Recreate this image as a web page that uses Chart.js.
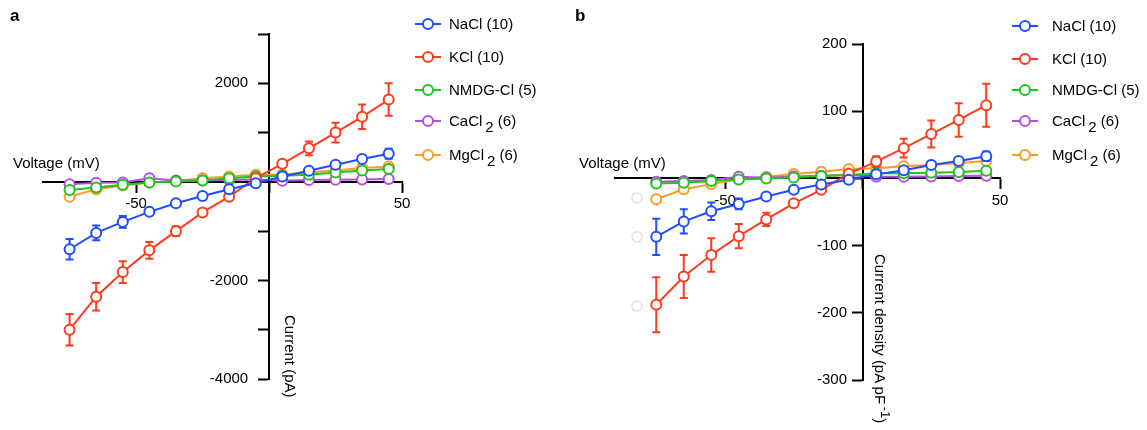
<!DOCTYPE html>
<html>
<head>
<meta charset="utf-8">
<script src="https://cdn.jsdelivr.net/npm/chart.js@4/dist/chart.umd.min.js"></script>
<style>
  body { margin: 0; background: #fff; font-family: 'Liberation Sans', Arial, sans-serif; }
  #wrap { position: relative; width: 1147px; height: 430px; overflow: hidden; }
  canvas { position: absolute; top: 0; }
  .txt { position: absolute; font-size: 15px; line-height: 18px; color: #000; white-space: nowrap; }
  .panel { position: absolute; font-size: 17px; font-weight: bold; }
  .rot { transform: rotate(90deg); transform-origin: left top; }
  .leg { position: absolute; font-size: 15px; line-height: 18px; white-space: nowrap; }
  .leg .ln { position: absolute; top: 8px; width: 26px; height: 0; border-top: 2px solid; }
  .leg .dot { position: absolute; top: 3px; left: 7px; width: 8px; height: 8px; border: 2px solid; border-radius: 50%; background: #fff; }
  .sub2 { position: relative; top: 6px; margin-left: 3px; }
</style>
</head>
<body>
<div id="wrap">
  <canvas id="chartA" width="570" height="430" style="left:0"></canvas>
  <canvas id="chartB" width="577" height="430" style="left:570px"></canvas>

  <div class="panel" style="left:10px; top:6px">a</div>
  <div class="panel" style="left:575px; top:6px">b</div>

  <div class="txt" style="left:13px; top:154px">Voltage (mV)</div>
  <div class="txt" style="left:579px; top:154px">Voltage (mV)</div>

  <div class="txt rot" style="left:299px; top:315px">Current (pA)</div>
  <div class="txt rot" style="left:894px; top:254px">Current density (pA pF<sup style="font-size:13px">&thinsp;-1</sup>)</div>

  <div id="legendA"></div>
  <div id="legendB"></div>
</div>

<script>
// tensioni di comando (mV), uguali per tutte le serie
const voltages = [-75, -65, -55, -45, -35, -25, -15, -5, 5, 15, 25, 35, 45];

// pannello a: corrente (pA)
const naclA = [-1367, -1036, -812, -608, -435, -286, -149, -27, 108, 224, 347, 463, 571];
const naclAErr = [210, 150, 120, 60, 40, 30, 20, 20, 20, 30, 40, 50, 100];
const kclA = [-3000, -2330, -1830, -1390, -1000, -620, -300, 75, 367, 680, 1000, 1320, 1670];
const kclAErr = [320, 280, 220, 170, 100, 60, 40, 40, 50, 140, 200, 250, 330];
const nmdgA = [-163, -116, -61, -14, 6, 27, 75, 108, 122, 143, 190, 231, 259];
const nmdgAErr = [40, 30, 20, 20, 20, 20, 20, 20, 20, 20, 30, 30, 40];
const cacl2A = [-47, -20, -14, 75, 27, 27, 40, 50, 20, 40, 45, 50, 60];
const cacl2AErr = [20, 20, 20, 20, 20, 20, 20, 20, 20, 20, 20, 20, 20];
const mgcl2A = [-300, -150, -75, -14, 20, 75, 108, 143, 150, 190, 231, 279, 313];
const mgcl2AErr = [40, 30, 20, 20, 20, 20, 20, 20, 20, 20, 30, 30, 40];

// pannello b: densita' di corrente (pA/pF)
const naclB = [-87, -64, -49, -38, -27, -17, -9, -2, 6, 12, 20, 26, 33];
const naclBErr = [27, 18, 13, 8, 4, 3, 2, 2, 2, 2, 3, 4, 7];
const kclB = [-188, -146, -114, -86, -61, -37, -17, 7, 25, 45, 66, 87, 109];
const kclBErr = [41, 32, 25, 18, 10, 5, 3, 3, 8, 14, 20, 25, 32];
const nmdgB = [-7.5, -6.5, -4, -1.5, 0, 1.5, 3.5, 5, 7.5, 7.5, 8.5, 9.5, 11.5];
const nmdgBErr = [2, 2, 2, 2, 2, 2, 2, 2, 2, 2, 2, 2, 2];
const cacl2B = [-5, -4, -2.5, 2.5, 1, 3, 4, 5, 2.5, 2.5, 3, 3.5, 4];
const cacl2BErr = [2, 2, 2, 2, 2, 2, 2, 2, 2, 2, 2, 2, 2];
const mgcl2B = [-31, -16, -8.5, -1.5, 2.5, 6.5, 10, 14, 15, 18, 20, 23, 26];
const mgcl2BErr = [3, 2, 2, 2, 2, 2, 2, 2, 2, 2, 2, 2, 3];

// cerchi grigi sbiaditi a sinistra nel pannello b
const ghostX = [-82, -82, -82];
const ghostY = [-29, -87, -190];

// etichette delle serie e numerosita'
const seriesNames = ['NaCl', 'KCl', 'NMDG-Cl', 'CaCl2', 'MgCl2'];
const seriesN = [10, 10, 5, 6, 6];

const colors = ['#1f4dff', '#ff3b1c', '#1ec51e', '#b44ee6', '#ff9a22'];

// disegna le barre d'errore prima di ogni dataset (cosi' i cerchi le coprono)
const errorBarPlugin = {
  id: 'errorBars',
  beforeDatasetDraw(chart, args) {
    const ds = chart.data.datasets[args.index];
    if (!ds.errors) return;
    const ctx = chart.ctx;
    const yScale = chart.scales.y;
    ctx.save();
    ctx.strokeStyle = ds.borderColor;
    ctx.lineWidth = 2;
    args.meta.data.forEach((pt, i) => {
      const v = ds.data[i].y;
      const e = ds.errors[i];
      const yTop = yScale.getPixelForValue(v + e);
      const yBot = yScale.getPixelForValue(v - e);
      ctx.beginPath();
      ctx.moveTo(pt.x, yTop); ctx.lineTo(pt.x, yBot);
      ctx.moveTo(pt.x - 4, yTop); ctx.lineTo(pt.x + 4, yTop);
      ctx.moveTo(pt.x - 4, yBot); ctx.lineTo(pt.x + 4, yBot);
      ctx.stroke();
    });
    ctx.restore();
  }
};

function makeDataset(label, values, errors, color) {
  return {
    label: label,
    data: voltages.map((v, i) => ({ x: v, y: values[i] })),
    errors: errors,
    borderColor: color,
    backgroundColor: '#fff',
    borderWidth: 2,
    pointRadius: 5,
    pointBorderWidth: 2,
    pointBackgroundColor: '#fff',
    tension: 0
  };
}

// con l'asse y posizionato su x=0 Chart.js ignora il padding delle etichette:
// le spingo a sinistra con degli spazi in coda
function axisOptions(xMin, xMax, yMin, yMax, yStep, yLabels, yGap) {
  const common = {
    type: 'linear',
    border: { display: true, color: '#000', width: 2 },
    grid: { drawOnChartArea: false, drawTicks: true, tickLength: 10, tickWidth: 2, tickColor: '#000' },
  };
  return {
    x: Object.assign({}, common, {
      position: { y: 0 },
      min: xMin, max: xMax,
      afterFit: s => { s.height = 0; },
      ticks: {
        stepSize: 50, includeBounds: false, autoSkip: false, maxRotation: 0,
        color: '#000', padding: 3,
        callback: v => (v === 0 ? '' : String(v))
      }
    }),
    y: Object.assign({}, common, {
      position: { x: 0 },
      min: yMin, max: yMax,
      afterFit: s => { s.width = 0; },
      ticks: {
        stepSize: yStep, autoSkip: false, color: '#000',
        callback: v => (yLabels.includes(v) ? String(v) + yGap : '')
      }
    })
  };
}

function drawChart(canvas, datasets, scales, padding) {
  return new Chart(canvas.getContext('2d'), {
    type: 'line',
    data: { datasets: datasets },
    options: {
      responsive: false,
      animation: false,
      events: [],
      layout: { padding: padding, autoPadding: false },
      plugins: { legend: { display: false }, tooltip: { enabled: false } },
      scales: scales
    },
    plugins: [errorBarPlugin]
  });
}

Chart.defaults.font.family = "'Liberation Sans', Arial, sans-serif";
Chart.defaults.font.size = 15;
Chart.defaults.color = '#000';

const valuesA = [naclA, kclA, nmdgA, cacl2A, mgcl2A];
const errorsA = [naclAErr, kclAErr, nmdgAErr, cacl2AErr, mgcl2AErr];
const valuesB = [naclB, kclB, nmdgB, cacl2B, mgcl2B];
const errorsB = [naclBErr, kclBErr, nmdgBErr, cacl2BErr, mgcl2BErr];

const datasetsA = seriesNames.map((n, i) => makeDataset(n, valuesA[i], errorsA[i], colors[i]));
const datasetsB = seriesNames.map((n, i) => makeDataset(n, valuesB[i], errorsB[i], colors[i]));
datasetsB.push({
  label: 'ghost',
  data: ghostX.map((x, i) => ({ x: x, y: ghostY[i] })),
  showLine: false,
  borderColor: '#e2e2e2',
  pointRadius: 5,
  pointBorderWidth: 1.5,
  pointBackgroundColor: '#fff',
  order: 10
});

drawChart(document.getElementById('chartA'), datasetsA,
  axisOptions(-85, 50, -4000, 3000, 1000, [2000, -2000, -4000], '     '),
  { left: 43, right: 168, top: 34, bottom: 51 });

drawChart(document.getElementById('chartB'), datasetsB,
  axisOptions(-90, 50, -300, 200, 100, [200, 100, -100, -200, -300], '   \u2009'),
  { left: 45, right: 147, top: 44, bottom: 50 });

// legenda HTML (serve il pedice in CaCl2 / MgCl2)
function buildLegend(el, left, textLeft, tops) {
  seriesNames.forEach((name, i) => {
    const item = document.createElement('div');
    item.className = 'leg';
    item.style.left = left + 'px';
    item.style.top = tops[i] + 'px';
    let label = name;
    if (name.endsWith('2')) {
      label = name.slice(0, -1) + '<span class="sub2">2</span>';
    }
    item.innerHTML =
      '<span class="ln" style="border-color:' + colors[i] + '"></span>' +
      '<span class="dot" style="border-color:' + colors[i] + '"></span>' +
      '<span style="position:absolute; left:' + textLeft + 'px">' + label + ' (' + seriesN[i] + ')</span>';
    el.appendChild(item);
  });
}

buildLegend(document.getElementById('legendA'), 415, 34, [15, 48, 81, 112, 146]);
buildLegend(document.getElementById('legendB'), 1012, 40, [17, 50, 81, 112, 146]);
</script>
</body>
</html>
